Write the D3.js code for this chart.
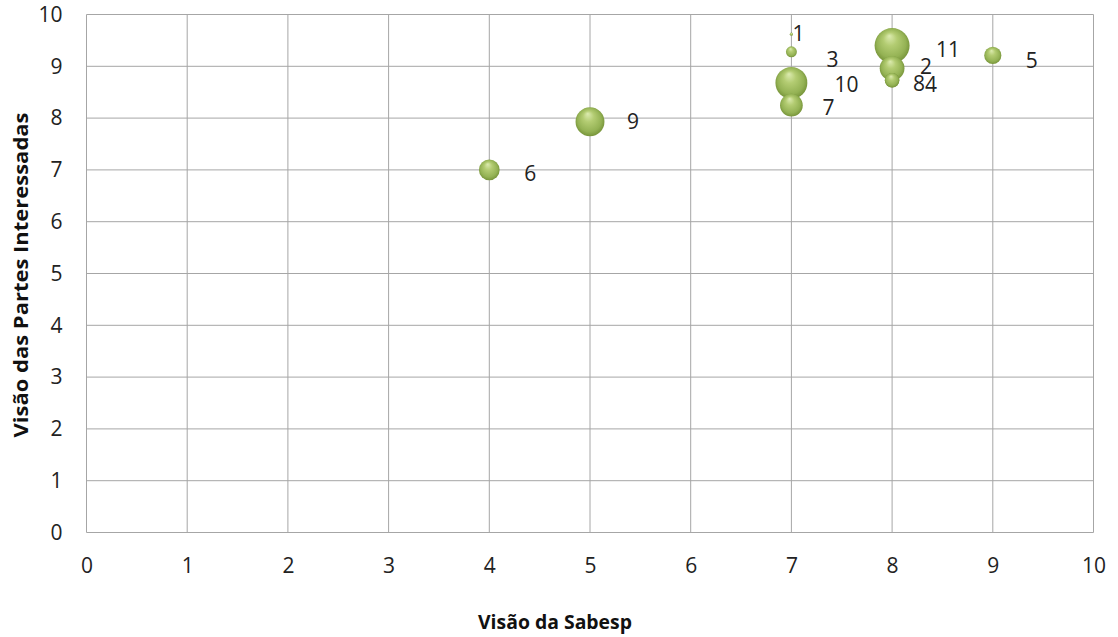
<!DOCTYPE html>
<html>
<head>
<meta charset="utf-8">
<script src="https://cdn.jsdelivr.net/npm/d3@7"></script>
<style>
  html, body { margin: 0; padding: 0; background: #ffffff; }
  svg { display: block; }
</style>
</head>
<body>
<svg id="chart" width="1118" height="637"></svg>
<script>
// ---- data ----
const labels   = ["1", "2", "3", "4", "5", "6", "7", "8", "9", "10", "11"];
const xValues  = [7, 8, 7, 8, 9, 4, 7, 8, 5, 7, 8];
const yValues  = [9.62, 8.96, 9.28, 8.73, 9.21, 7.0, 8.25, 8.73, 7.93, 8.68, 9.40];
const sizes    = [0.08, 5.0, 0.97, 1.7, 2.4, 3.5, 4.2, 1.7, 6.8, 8.3, 10];
const xTicks   = [0, 1, 2, 3, 4, 5, 6, 7, 8, 9, 10];
const yTicks   = [0, 1, 2, 3, 4, 5, 6, 7, 8, 9, 10];
const xTitle   = "Visão da Sabesp";
const yTitle   = "Visão das Partes Interessadas";

// label nudges (pixels, layout only)
const labelDx = [7, 34, 41, 39, 39, 41, 37, 27, 43, 55, 56];
const labelDy = [-1, -2, 8, 4, 5, 4, 2, 3, 0, 2, 4];

// ---- layout ----
const svg = d3.select("#chart");
const pLeft = 86.5, pRight = 1093.5, pTop = 14.5, pBottom = 532.5;
const x = d3.scaleLinear().domain([0, 10]).range([pLeft, pRight]);
const y = d3.scaleLinear().domain([0, 10]).range([pBottom, pTop]);
const r = d3.scaleSqrt().domain([0, d3.max(sizes)]).range([0, 17.5]);

const font = "'Open Sans', 'DejaVu Sans', sans-serif";
const gridColor = "#a6a6a6";

// gradient
const defs = svg.append("defs");
const grad = defs.append("radialGradient")
  .attr("id", "ball").attr("cx", "50%").attr("cy", "50%").attr("r", "55%")
  .attr("fx", "42%").attr("fy", "22%");
grad.append("stop").attr("offset", "0%").attr("stop-color", "#dcebb0");
grad.append("stop").attr("offset", "35%").attr("stop-color", "#b3cc72");
grad.append("stop").attr("offset", "75%").attr("stop-color", "#94b254");
grad.append("stop").attr("offset", "100%").attr("stop-color", "#6f8c33");

// grid
const g = svg.append("g");
g.selectAll("line.v").data(xTicks).join("line")
  .attr("x1", d => x(d)).attr("x2", d => x(d))
  .attr("y1", y(0)).attr("y2", y(10))
  .attr("stroke", gridColor).attr("stroke-width", 1);
g.selectAll("line.h").data(yTicks).join("line")
  .attr("y1", d => y(d)).attr("y2", d => y(d))
  .attr("x1", x(0)).attr("x2", x(10))
  .attr("stroke", gridColor).attr("stroke-width", 1);

// axes
const xAxis = d3.axisBottom(x).tickValues(xTicks).tickSize(0).tickPadding(26).tickFormat(d3.format("d"));
const yAxis = d3.axisLeft(y).tickValues(yTicks).tickSize(0).tickPadding(24).tickFormat(d3.format("d"));
const gx = svg.append("g").attr("transform", `translate(0,${pBottom})`).call(xAxis);
const gy = svg.append("g").attr("transform", `translate(${pLeft},0)`).call(yAxis);
[gx, gy].forEach(a => {
  a.select(".domain").remove();
  a.selectAll("text").attr("font-family", font).attr("font-size", 21).attr("fill", "#222");
});

// axis titles
svg.append("text").attr("x", 555).attr("y", 629)
  .attr("text-anchor", "middle").attr("font-family", font).attr("font-weight", "bold")
  .attr("font-size", 19.5).attr("fill", "#111")
  .attr("textLength", 154).attr("lengthAdjust", "spacingAndGlyphs").text(xTitle);
svg.append("text").attr("transform", `translate(28,${275}) rotate(-90)`)
  .attr("text-anchor", "middle").attr("font-family", font).attr("font-weight", "bold")
  .attr("font-size", 20).attr("fill", "#111")
  .attr("textLength", 325).attr("lengthAdjust", "spacingAndGlyphs").text(yTitle);

// bubbles
const data = labels.map((l, i) => ({ l, x: xValues[i], y: yValues[i], s: sizes[i], i }));
const order = data.slice().sort((a, b) => b.s - a.s);
svg.append("g").selectAll("circle").data(order).join("circle")
  .attr("cx", d => x(d.x)).attr("cy", d => y(d.y)).attr("r", d => r(d.s))
  .attr("fill", "url(#ball)");

// labels
svg.append("g").selectAll("text").data(data).join("text")
  .attr("x", d => x(d.x) + labelDx[d.i]).attr("y", d => y(d.y) + labelDy[d.i])
  .attr("dy", "0.36em").attr("text-anchor", "middle")
  .attr("font-family", font).attr("font-size", 21).attr("fill", "#222")
  .text(d => d.l);
</script>
</body>
</html>
